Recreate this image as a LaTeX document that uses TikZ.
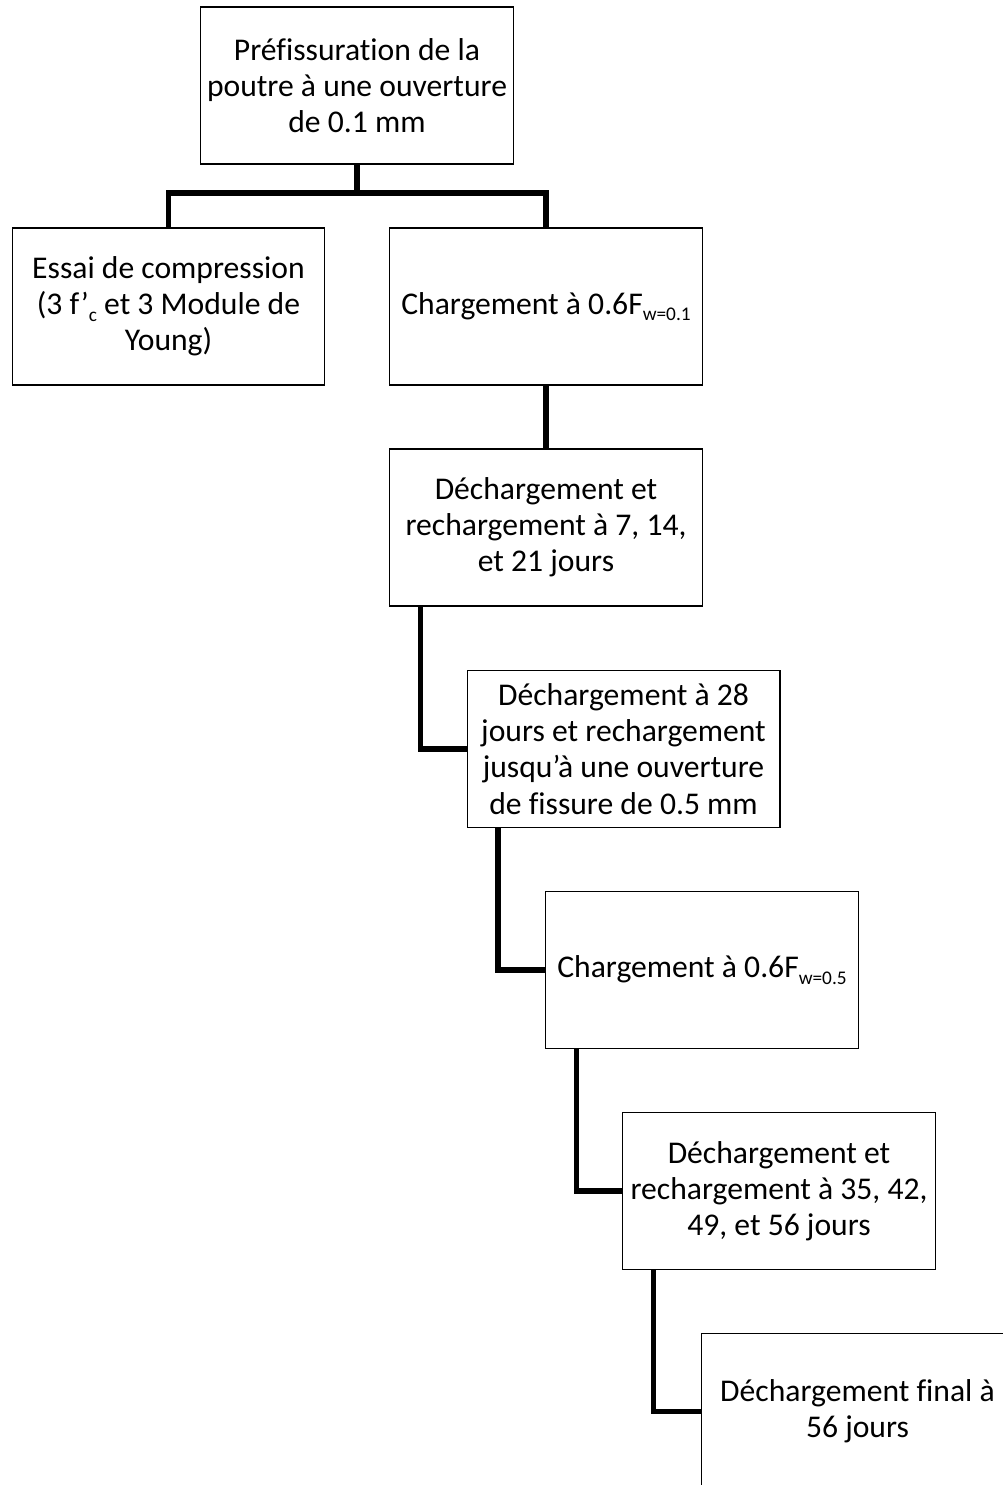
\documentclass[tikz,border=0pt]{standalone}
\usepackage{fontspec}
\setmainfont{Carlito}[Ligatures={NoCommon}]
\usepackage{tikz}
\usetikzlibrary{calc}
\newcommand{\indice}[1]{\raisebox{-0.45ex}{\fontsize{11}{11}\selectfont #1}}
\tikzset{
  etape/.style={draw, line width=0.6pt, minimum width=6.26cm, minimum height=3.14cm,
    inner sep=2pt, align=center, font=\fontsize{18}{20.6}\selectfont},
  lien/.style={line width=3.2pt, line join=miter}
}

\begin{document}
\begin{tikzpicture}[x=0.02cm, y=-0.02cm]
\useasboundingbox (0,0) rectangle (1003,1485);

% Préfissuration
\node[etape] (prefis) at (357,85.5) {Préfissuration de la\\poutre à une ouverture\\de 0.1 mm};

% Deux branches
\node[etape] (compr) at (168.5,306.5) {Essai de compression\\(3 f’\indice{c} et 3 Module de\\Young)};
\node[etape] (charg1) at (546,306.5) {Chargement à 0.6F\indice{w=0.1}};
\coordinate (split) at (357,193);
\draw[lien] (prefis.south) -- (split);
\draw[lien] (compr.north) |- (split) -| (charg1.north);

% Suite des étapes
\node[etape] (dech1) at (546,527.5) {Déchargement et\\rechargement à 7, 14,\\et 21 jours};
\node[etape] (dech28) at (623.5,749) {Déchargement à 28\\jours et rechargement\\jusqu’à une ouverture\\de fissure de 0.5 mm};
\node[etape] (charg2) at (702,970) {Chargement à 0.6F\indice{w=0.5}};
\node[etape] (dech2) at (779,1191) {Déchargement et\\rechargement à 35, 42,\\49, et 56 jours};
\node[etape] (final) at (857.5,1411.5) {Déchargement final à\\56 jours};

% Liens
\draw[lien] (charg1.south) -- (dech1.north);
\draw[lien] ($(dech1.south west)!.1!(dech1.south east)$) |- (dech28.west);
\draw[lien] ($(dech28.south west)!.1!(dech28.south east)$) |- (charg2.west);
\draw[lien] ($(charg2.south west)!.1!(charg2.south east)$) |- (dech2.west);
\draw[lien] ($(dech2.south west)!.1!(dech2.south east)$) |- (final.west);

\end{tikzpicture}
\end{document}
